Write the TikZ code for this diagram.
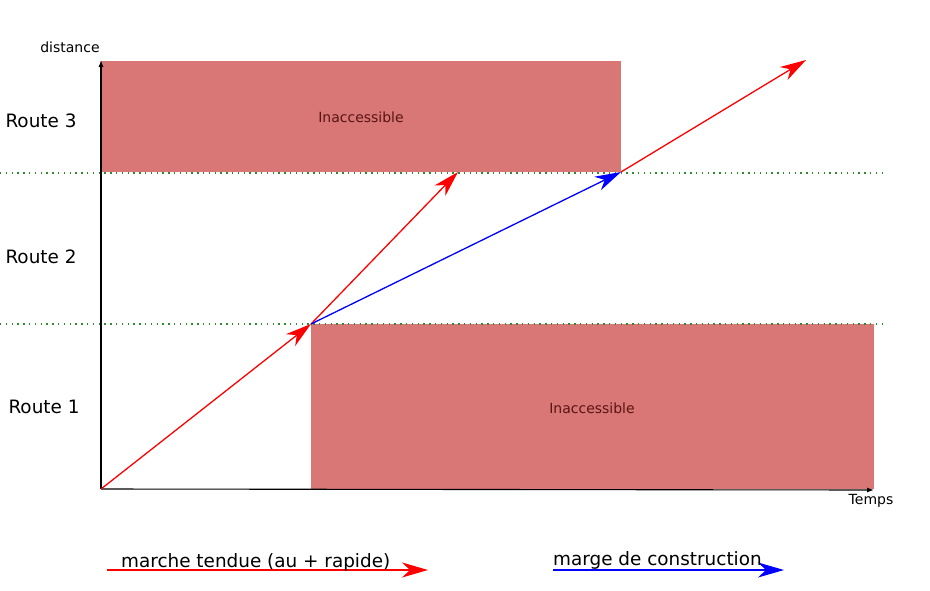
\documentclass[tikz,border=0pt]{standalone}
\usepackage{fontspec}
\setmainfont{DejaVu Sans}
\usetikzlibrary{arrows.meta}
\definecolor{zone}{HTML}{D87775}
\definecolor{zonetxt}{HTML}{5A1414}
\definecolor{dotgreen}{HTML}{2E8B2E}
\begin{document}
\begin{tikzpicture}[x=1pt,y=-1pt,
  zonebox/.style={fill=zone,draw=none},
  zonelabel/.style={font=\fontsize{14}{16}\selectfont,text=zonetxt},
  routelabel/.style={font=\fontsize{18.4}{21}\selectfont},
  axislabel/.style={font=\fontsize{14}{16}\selectfont},
  legendlabel/.style={font=\fontsize{18.4}{21}\selectfont,inner sep=0pt,anchor=base west},
  axisline/.style={draw=black,line width=1.1pt,-{Latex[length=7pt,width=5pt]}},
  bigtip/.style={-{Stealth[length=26pt,width=15pt,inset=8pt]}},
  redarrow/.style={draw=red,line width=1.3pt,bigtip},
  bluearrow/.style={draw=blue,line width=1.3pt,bigtip},
  separator/.style={draw=dotgreen,line width=1.3pt,dash pattern=on 1.3pt off 4.5pt}]
\useasboundingbox (0,0) rectangle (930,590);
% zones
\fill[zonebox] (101,61) rectangle (621,172);
\node[zonelabel] (z3) at (361,117) {Inaccessible};
\fill[zonebox] (311,324) rectangle (874,489);
\node[zonelabel] (z1) at (592,408) {Inaccessible};
% separators
\coordinate (s3a) at (0,173);
\coordinate (s3b) at (885,173);
\coordinate (s2a) at (0,324);
\coordinate (s2b) at (887,324);
\draw[separator] (s3a) -- (s3b);
\draw[separator] (s2a) -- (s2b);
% axes
\coordinate (O) at (101,489);
\coordinate (ytop) at (101,60);
\coordinate (xend) at (874,490);
\draw[axisline] (O) -- (ytop);
\draw[axisline] (O) -- (xend);
\node[axislabel] (dist) at (70,47) {distance};
\node[axislabel] (temps) at (871,501) {Temps};
% route labels
\node[routelabel] (r3) at (41,121) {Route 3};
\node[routelabel] (r2) at (41,257) {Route 2};
\node[routelabel] (r1) at (44,407) {Route 1};
% trajectories
\coordinate (A) at (311,324);
\coordinate (B) at (458,172);
\coordinate (C) at (621,172);
\coordinate (D) at (806,60);
\draw[redarrow] (O) -- (A);
\draw[redarrow] (A) -- (B);
\draw[bluearrow] (A) -- (C);
\draw[redarrow] (C) -- (D);
% legend
\coordinate (l1a) at (107,570);
\coordinate (l1b) at (428,570);
\coordinate (l2a) at (553,570);
\coordinate (l2b) at (784,570);
\draw[redarrow] (l1a) -- (l1b);
\draw[bluearrow] (l2a) -- (l2b);
\node[legendlabel] (leg1) at (121,567) {marche tendue (au + rapide)};
\node[legendlabel] (leg2) at (553,565) {marge de construction};
\end{tikzpicture}
\end{document}
